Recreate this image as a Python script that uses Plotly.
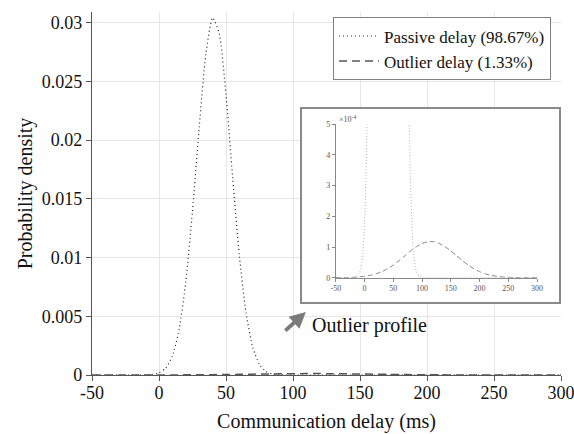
import plotly.graph_objects as go

# ---- data ----
passive_x = [-50, -40, -30, -20, -15, -10, -5, 0, 5, 10, 15, 20, 25, 30, 35, 40, 45, 50,
             55, 60, 65, 70, 75, 80, 85, 90, 95, 100, 110, 150, 200, 250, 300]
passive_y = [0, 0, 0, 0.0000005, 0.000002, 0.000011, 0.000048, 0.00018, 0.000585, 0.00162,
             0.00387, 0.00794, 0.01397, 0.02109, 0.02733, 0.03041, 0.02905, 0.02383,
             0.01677, 0.01013, 0.00526, 0.00234, 0.000896, 0.000294, 0.000083, 0.00002,
             0.000004, 0.000001, 0, 0, 0, 0, 0]

outlier_x = [-50, -40, -30, -20, -10, 0, 10, 20, 30, 40, 50, 60, 70, 80, 90, 100, 110,
             120, 130, 140, 150, 160, 170, 180, 190, 200, 210, 220, 230, 240, 250, 260,
             270, 280, 290, 300]
outlier_y = [0.1e-6, 0.3e-6, 0.6e-6, 1.3e-6, 2.5e-6, 4.5e-6, 7.7e-6, 12.7e-6, 19.8e-6,
             29.4e-6, 41.5e-6, 55.9e-6, 71.5e-6, 87.2e-6, 101e-6, 111.5e-6, 117.2e-6,
             117.2e-6, 111.5e-6, 101e-6, 87.2e-6, 71.5e-6, 55.9e-6, 41.5e-6, 29.4e-6,
             19.8e-6, 12.7e-6, 7.7e-6, 4.5e-6, 2.5e-6, 1.3e-6, 0.6e-6, 0.3e-6, 0.1e-6,
             0, 0]

x_ticks = [-50, 0, 50, 100, 150, 200, 250, 300]
x_tick_text = ["-50", "0", "50", "100", "150", "200", "250", "300"]
y_ticks = [0, 0.005, 0.01, 0.015, 0.02, 0.025, 0.03]
y_tick_text = ["0", "0.005", "0.01", "0.015", "0.02", "0.025", "0.03"]
inset_y_ticks = [0, 1e-4, 2e-4, 3e-4, 4e-4, 5e-4]
inset_y_text = ["0", "1", "2", "3", "4", "5"]

passive_name = "Passive delay (98.67%)"
outlier_name = "Outlier delay (1.33%)"

SERIF = "Liberation Serif, Times New Roman, serif"

fig = go.Figure()

# main traces
fig.add_trace(go.Scatter(x=passive_x, y=passive_y, mode="lines", name=passive_name,
                         line=dict(color="#222222", width=1.2, dash="1px,3px",
                                   shape="spline", smoothing=0.6)))
fig.add_trace(go.Scatter(x=outlier_x, y=outlier_y, mode="lines", name=outlier_name,
                         line=dict(color="#555555", width=1.5, dash="8px,5px",
                                   shape="spline", smoothing=0.6)))

# inset frame (empty subplot, white background, bordered)
fig.add_trace(go.Scatter(x=[None], y=[None], xaxis="x2", yaxis="y2",
                         showlegend=False, hoverinfo="skip"))

# inset traces
fig.add_trace(go.Scatter(x=passive_x, y=passive_y, mode="lines", xaxis="x3", yaxis="y3",
                         showlegend=False, hoverinfo="skip",
                         line=dict(color="#aaaaaa", width=0.9, dash="1px,2px",
                                   shape="spline", smoothing=0.6)))
fig.add_trace(go.Scatter(x=outlier_x, y=outlier_y, mode="lines", xaxis="x3", yaxis="y3",
                         showlegend=False, hoverinfo="skip",
                         line=dict(color="#777777", width=0.9, dash="5px,3px",
                                   shape="spline", smoothing=0.6)))

axis_common = dict(showline=True, linecolor="#555555", linewidth=1.3,
                   ticks="outside", ticklen=5, tickcolor="#555555",
                   gridcolor="#e6e6e6", gridwidth=1, zeroline=False, automargin=False,
                   tickfont=dict(family=SERIF, size=18, color="#111111"))

inset_axis = dict(showgrid=False, zeroline=False, showline=True, linecolor="#888888",
                  linewidth=1, ticks="outside", ticklen=3, tickcolor="#888888",
                  automargin=False,
                  tickfont=dict(family=SERIF, size=8, color="#555555"))

fig.update_layout(
    width=574, height=434,
    margin=dict(l=92, r=13, t=12, b=59),
    paper_bgcolor="white", plot_bgcolor="white",
    font=dict(family=SERIF, color="#111111"),
    xaxis=dict(range=[-50, 300], tickvals=x_ticks, ticktext=x_tick_text, showgrid=True,
               ticklabelstandoff=-4, ticklabeloverflow="allow",
               title=dict(text="Communication delay (ms)", font=dict(size=20), standoff=12),
               **axis_common),
    yaxis=dict(range=[0, 0.0309], tickvals=y_ticks, ticktext=y_tick_text, showgrid=True,
               ticklabeloverflow="allow",
               title=dict(text="Probability density", font=dict(size=20), standoff=3),
               **axis_common),
    xaxis2=dict(domain=[0.448, 0.996], anchor="y2", range=[0, 1], showgrid=False,
                zeroline=False, showticklabels=False, ticks="", showline=True,
                mirror=True, linecolor="#8a8a8a", linewidth=1.5, fixedrange=True,
                automargin=False),
    yaxis2=dict(domain=[0.201, 0.733], anchor="x2", range=[0, 1], showgrid=False,
                zeroline=False, showticklabels=False, ticks="", showline=True,
                mirror=True, linecolor="#8a8a8a", linewidth=1.5, fixedrange=True,
                automargin=False),
    xaxis3=dict(domain=[0.520, 0.949], anchor="y3", range=[-50, 300], tickvals=x_ticks,
                ticktext=x_tick_text, **inset_axis),
    yaxis3=dict(domain=[0.268, 0.691], anchor="x3", range=[0, 5e-4],
                tickvals=inset_y_ticks, ticktext=inset_y_text, **inset_axis),
    legend=dict(x=0.514, y=0.985, xanchor="left", yanchor="top",
                bgcolor="white", bordercolor="#808080", borderwidth=1,
                font=dict(family=SERIF, size=17, color="#111111"),
                tracegroupgap=0, itemwidth=40),
    showlegend=True,
)

fig.add_annotation(xref="paper", yref="paper", x=0.522, y=0.705, xanchor="left",
                   yanchor="middle", showarrow=False, text="×10<sup>-4</sup>",
                   font=dict(family=SERIF, size=8, color="#555555"))

fig.add_annotation(xref="paper", yref="paper", x=0.456, y=0.1736, ax=-22, ay=20,
                   axref="pixel", ayref="pixel", text="", showarrow=True,
                   arrowhead=2, arrowsize=0.8, arrowwidth=4, arrowcolor="#7a7a7a")

fig.add_annotation(xref="paper", yref="paper", x=0.465, y=0.135, xanchor="left",
                   yanchor="middle", showarrow=False, text="Outlier profile",
                   font=dict(family=SERIF, size=20, color="#111111"))

fig.write_html("out.html")
